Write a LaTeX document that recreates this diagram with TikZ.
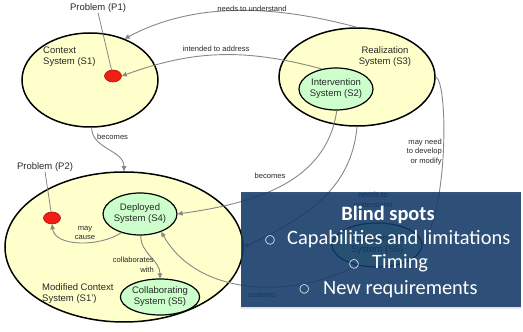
\documentclass[tikz,border=0pt]{standalone}
\usepackage{fontspec}
\setmainfont{Liberation Sans}
\newfontfamily\boxfont{Carlito}
\newfontfamily\symfont{DejaVu Sans}
\usetikzlibrary{shapes.geometric,arrows.meta,shadows}
\definecolor{sysyellow}{RGB}{255,255,204}
\definecolor{sysgreen}{RGB}{204,255,204}
\definecolor{dotred}{RGB}{240,30,20}
\definecolor{dotedge}{RGB}{170,20,10}
\definecolor{linegray}{RGB}{135,135,135}
\definecolor{txtgray}{RGB}{40,40,40}
\definecolor{boxblue}{RGB}{14,55,102}
\begin{document}
\begin{tikzpicture}[x=1pt,y=1pt,
  bigsys/.style={ellipse, draw=black, line width=1.5pt, fill=sysyellow, inner sep=0pt},
  subsys/.style={ellipse, draw=black, line width=1.2pt, fill=sysgreen, inner sep=0pt, align=center, font=\fontsize{9.5}{11}\selectfont, text=txtgray},
  probdot/.style={ellipse, draw=dotedge, line width=0.6pt, fill=dotred, minimum width=17pt, minimum height=12pt, inner sep=0pt},
  syslbl/.style={font=\fontsize{9.5}{11}\selectfont, text=txtgray, inner sep=0pt},
  edgelbl/.style={font=\fontsize{7.6}{9.6}\selectfont, text=txtgray, inner sep=0pt},
  conn/.style={draw=linegray, line width=0.9pt, -{Triangle[length=5pt,width=4.5pt]}},
  pline/.style={draw=linegray, line width=0.8pt},
  boxtext/.style={font=\boxfont\fontsize{20.4}{24}\selectfont, text=white, inner sep=0pt},
  bulletmark/.style={font=\symfont\fontsize{12}{12}\selectfont, text=white, inner sep=0pt}
]
\useasboundingbox (0,0) rectangle (523,332);

% systems
\node[bigsys, minimum width=136pt, minimum height=94pt] (S1) at (90,252) {};
\node[bigsys, minimum width=156pt, minimum height=98pt] (S3) at (357,255) {};
\node[subsys, minimum width=74pt, minimum height=42pt] (S2) at (336,243) {Intervention\\System (S2)};
\node[bigsys, minimum width=238pt, minimum height=150pt] (S1p) at (124,85) {};
\node[subsys, minimum width=73pt, minimum height=42pt] (S4) at (140,118) {Deployed\\System (S4)};
\node[subsys, minimum width=74pt, minimum height=36pt] (S5) at (160,35) {Collaborating\\System (S5)};
\node[subsys, minimum width=90pt, minimum height=44pt] (S6) at (377,87) {Sustainment\\System (S6)};

% system labels
\node[syslbl, align=left, anchor=west] (S1lbl) at (43,275.5) {Context\\System (S1)};
\node[syslbl, align=center] (S3lbl) at (385,275) {Realization\\System (S3)};
\node[syslbl, align=left, anchor=west] (S1plbl) at (42,38.5) {Modified Context\\System (S1')};

% problems
\node[probdot] (P1) at (113,256) {};
\node[probdot] (P2) at (52,114) {};
\node[syslbl] (P1lbl) at (98,324) {Problem (P1)};
\node[syslbl] (P2lbl) at (45,165) {Problem (P2)};
\draw[pline] (P1lbl.south) -- (P1);
\draw[pline] (P2lbl.south) -- (P2);

% connectors
\draw[conn] (S3.north) to[out=165, in=28, looseness=0.9] (S1.50);
\draw[conn] (S2.125) to[out=165, in=20] (P1.east);
\draw[conn] (S1.272) to[out=-90, in=90] (S1p.north);
\draw[conn] (S2.-88) to[out=-98, in=8] (S4.east);
\draw[conn] (S3.south) to[out=-95, in=25] (S1p.east);
\draw[conn] (S3.east) .. controls (448,250) and (448,130) .. (S6.east);
\draw[conn] (S6.225) .. controls (300,35) and (200,32) .. (S4.-40);
\draw[conn] (S4.-135) .. controls (100,85) and (55,85) .. (P2.south);
\draw[conn] (S4.-88) to[out=-90, in=90] (S5.north);

% connector labels
\node[edgelbl] (Lneed1) at (252,323) {needs to understand};
\node[edgelbl] (Lint) at (216,283) {intended to address};
\node[edgelbl, anchor=west] (Lbec1) at (97,195) {becomes};
\node[edgelbl] (Lbec2) at (270,156) {becomes};
\node[edgelbl, align=right, anchor=east] (Lmay) at (442,180) {may need\\to develop\\or modify};
\node[edgelbl, align=center] (Lneed2) at (373,132) {needs to\\understand};
\node[edgelbl] (Lsus) at (262,37) {sustains};
\node[edgelbl, align=center] (Lcause) at (85,99) {may\\cause};
\node[edgelbl, align=right, anchor=east] (Lcol) at (154,67) {collaborates\\with};

% overlay box
\node[rectangle, fill=boxblue, fill opacity=0.85, minimum width=280pt, minimum height=115pt, inner sep=0pt,
      drop shadow={opacity=0.2, shadow xshift=0pt, shadow yshift=-2pt}] (blind) at (381,82.5) {};
\node[boxtext, anchor=base] (B0) at (388,111) {\bfseries Blind spots};
\node[bulletmark] (M1) at (270,91.3) {○};
\node[boxtext, anchor=base west] (B1) at (287,87) {Capabilities and limitations};
\node[bulletmark] (M2) at (354,67.7) {○};
\node[boxtext, anchor=base west] (B2) at (372,63.3) {Timing};
\node[bulletmark] (M3) at (304.3,42.7) {○};
\node[boxtext, anchor=base west] (B3) at (323,37.7) {New requirements};
\end{tikzpicture}
\end{document}
